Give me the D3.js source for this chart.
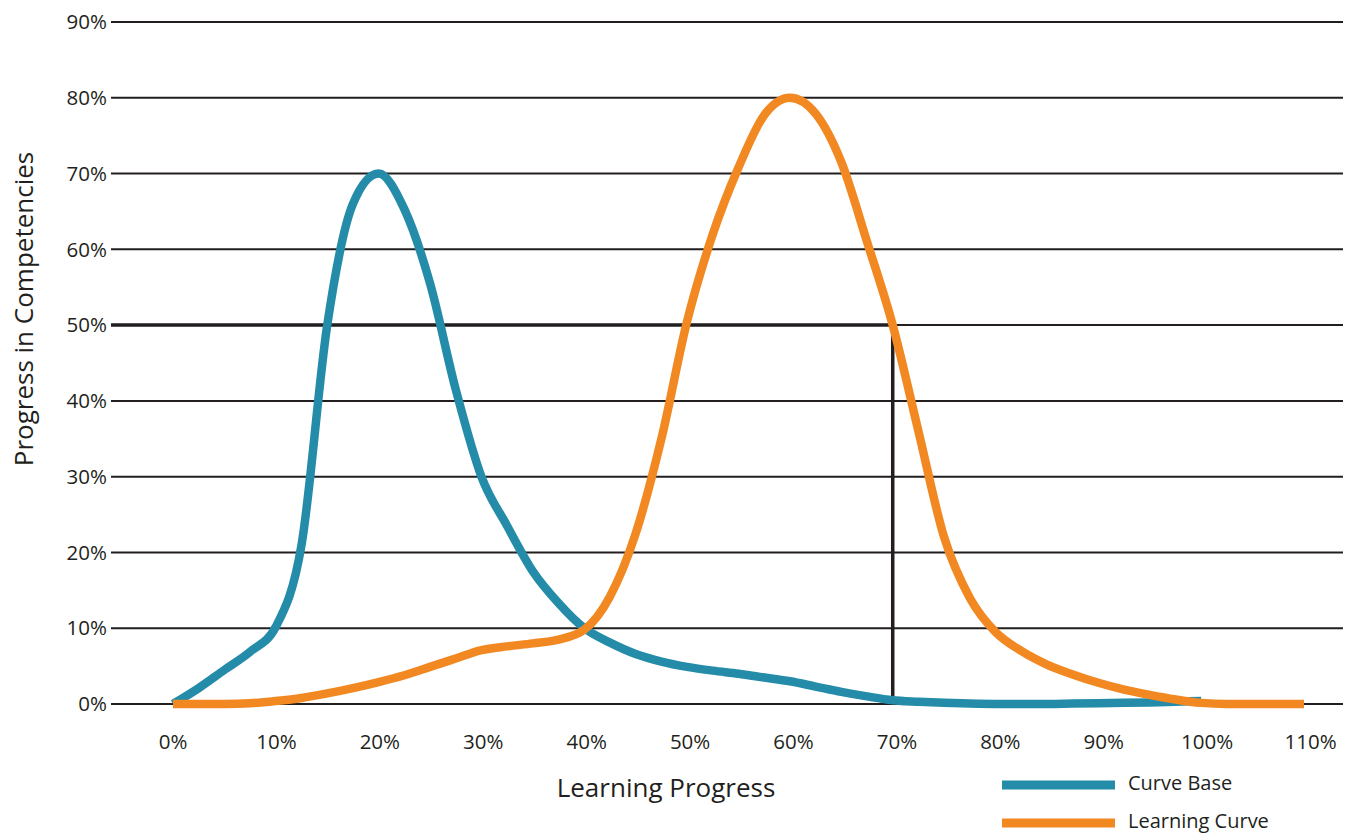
<!DOCTYPE html>
<html lang="en">
<head>
    <meta charset="UTF-8">
    <title>Learning Curve</title>
    <script src="https://d3js.org/d3.v7.min.js"></script>
    <style>
        body {margin: 0; background: #fff;}
        text {font-family: "Open Sans", "Noto Sans", sans-serif; fill: #231f20;}
    </style>
</head>
<body>
<svg id="chart"></svg>
<script>
    const progressX = [0, 2.5, 5, 7.5, 10, 12.5, 15, 17.5, 20, 22.5, 25, 27.5, 30, 32.5, 35, 37.5, 40, 42.5, 45, 47.5,
        50, 52.5, 55, 57.5, 60, 62.5, 65, 67.5, 70, 72.5, 75, 77.5, 80, 82.5, 85, 87.5, 90, 92.5, 95, 97.5, 100, 102.5, 105, 107.5, 110];
    // Curve Base (stops at 100%)
    const curveBase = [0, 2.1, 4.5, 6.9, 10.2, 21, 50, 66, 70, 65.3, 55.5, 41.5, 30, 23.5, 17.5, 13.3, 10, 8.1, 6.6, 5.6,
        4.9, 4.4, 4, 3.5, 3, 2.3, 1.6, 1, 0.5, 0.3, 0.15, 0.05, 0, 0, 0, 0.05, 0.1, 0.15, 0.2, 0.3, 0.4];
    // Learning Curve
    const learningCurve = [0, 0, 0, 0.1, 0.4, 0.8, 1.4, 2.1, 2.9, 3.8, 4.9, 6, 7.1, 7.6, 8, 8.5, 9.8, 14.2, 22.5, 35,
        50.5, 62, 70.8, 77.7, 80, 77.9, 71.5, 61, 50, 36, 22, 14, 9.5, 7, 5.2, 3.9, 2.8, 1.9, 1.2, 0.6, 0.15, 0, 0, 0, 0];
    const xTicks = d3.range(0, 111, 10);
    const yTicks = d3.range(0, 91, 10);
    const marker = {x: 70, y: 50};
    const legendNames = ['Curve Base', 'Learning Curve'];
    const colors = ['#248ca9', '#f28822'];

    const width = 1349, height = 834;
    const svg = d3.select('#chart').attr('width', width).attr('height', height);

    const x = d3.scaleLinear().domain([0, 110]).range([173, 1304]);
    const y = d3.scaleLinear().domain([0, 90]).range([704, 22]);
    const gridL = 111, gridR = 1343;

    // grid lines + y labels
    svg.append('g').selectAll('line').data(yTicks).join('line')
        .attr('x1', gridL).attr('x2', gridR)
        .attr('y1', d => y(d)).attr('y2', d => y(d))
        .attr('stroke', '#231f20').attr('stroke-width', 2);
    svg.append('g').selectAll('text').data(yTicks).join('text')
        .attr('x', 107).attr('y', d => y(d)).attr('dy', '0.35em')
        .attr('text-anchor', 'end').attr('font-size', 20.5)
        .text(d => d + '%');

    // x labels
    svg.append('g').selectAll('text').data(xTicks).join('text')
        .attr('x', d => x(d) + d * 0.06).attr('y', 749)
        .attr('text-anchor', 'middle').attr('font-size', 20.5)
        .text(d => d + '%');

    // axis titles
    svg.append('text').attr('x', 666).attr('y', 797).attr('text-anchor', 'middle')
        .attr('font-size', 26).text('Learning Progress');
    svg.append('text').attr('transform', 'translate(33,309) rotate(-90)').attr('text-anchor', 'middle')
        .attr('font-size', 26).text('Progress in Competencies');

    // 50% / 70% marker
    svg.append('path')
        .attr('d', `M${gridL},${y(marker.y)}H${x(marker.x)}V${y(0.5)}`)
        .attr('fill', 'none').attr('stroke', '#231f20').attr('stroke-width', 3.5);

    const line = d3.line().x(d => x(d[0])).y(d => y(d[1])).curve(d3.curveMonotoneX);
    const series = [
        curveBase.map((v, i) => [progressX[i], v]),
        learningCurve.map((v, i) => [progressX[i], v])
    ];
    svg.append('g').selectAll('path').data(series).join('path')
        .attr('d', line)
        .attr('fill', 'none')
        .attr('stroke', (d, i) => colors[i])
        .attr('stroke-width', 8.5);

    // legend
    const lg = svg.append('g').selectAll('g').data(legendNames).join('g')
        .attr('transform', (d, i) => `translate(1002,${785 + i * 38})`);
    lg.append('line').attr('x1', 0).attr('x2', 113)
        .attr('stroke', (d, i) => colors[i]).attr('stroke-width', 9);
    lg.append('text').attr('x', 126).attr('dy', '0.26em').attr('font-size', 20).text(d => d);
</script>
</body>
</html>
